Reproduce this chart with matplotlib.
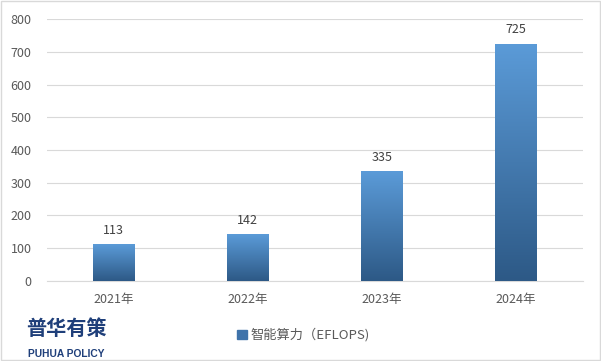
import numpy as np
import matplotlib.pyplot as plt
from matplotlib.colors import LinearSegmentedColormap
from matplotlib.patches import Rectangle

plt.rcParams['font.family'] = ['Noto Sans CJK SC', 'DejaVu Sans']

years = ['2021年', '2022年', '2023年', '2024年']
compute = [113, 142, 335, 725]
series_name = '智能算力（EFLOPS)'

fig = plt.figure(figsize=(6.01, 3.61), dpi=100)
ax = fig.add_axes([0.078, 0.222, 0.892, 0.725])

x = np.arange(len(years))
bars = ax.bar(x, compute, width=0.31, color='none', zorder=3)

# gradient fill, light at top to dark at bottom
cmap = LinearSegmentedColormap.from_list('bluegrad', ['#2d5986', '#5b9bd8'])
grad = np.linspace(0, 1, 256).reshape(-1, 1)
for b in bars:
    x0, w, h = b.get_x(), b.get_width(), b.get_height()
    im = ax.imshow(grad, cmap=cmap, origin='lower', aspect='auto',
                   extent=[x0, x0 + w, 0, h], zorder=3)
    im.set_clip_path(b)

for xi, v in zip(x, compute):
    ax.text(xi, v + 22, str(v), ha='center', va='bottom', fontsize=9, color='#404040')

ax.set_xlim(-0.5, 3.5)
ax.set_ylim(0, 800)
ax.set_yticks(range(0, 801, 100))
ax.set_xticks(x)
ax.set_xticklabels(years)
ax.grid(axis='y', color='#d9d9d9', linewidth=0.8, zorder=0)
ax.set_axisbelow(True)
for s in ['top', 'right', 'left']:
    ax.spines[s].set_visible(False)
ax.spines['bottom'].set_color('#d9d9d9')
ax.tick_params(axis='both', length=0, labelsize=9, colors='#595959')
ax.tick_params(axis='y', pad=11)
ax.tick_params(axis='x', pad=9)

handle = Rectangle((0, 0), 1, 1, color='#3f73aa')
fig.legend([handle], [series_name], loc='center', bbox_to_anchor=(0.505, 0.072),
           frameon=False, fontsize=9.5, labelcolor='#595959',
           handlelength=0.7, handleheight=0.7, handletextpad=0.3)

fig.text(0.044, 0.072, '普华有策', fontsize=14.5, fontweight='bold', color='#1f3f7a')
fig.text(0.046, 0.01, 'PUHUA POLICY', fontsize=7.4, fontweight='bold', color='#1f3f7a',
         family=['Liberation Sans', 'DejaVu Sans'])

fig.add_artist(Rectangle((0.001, 0.002), 0.997, 0.995, transform=fig.transFigure,
                         fill=False, edgecolor='#d9d9d9', linewidth=1))

fig.savefig('out.png', dpi=100)
